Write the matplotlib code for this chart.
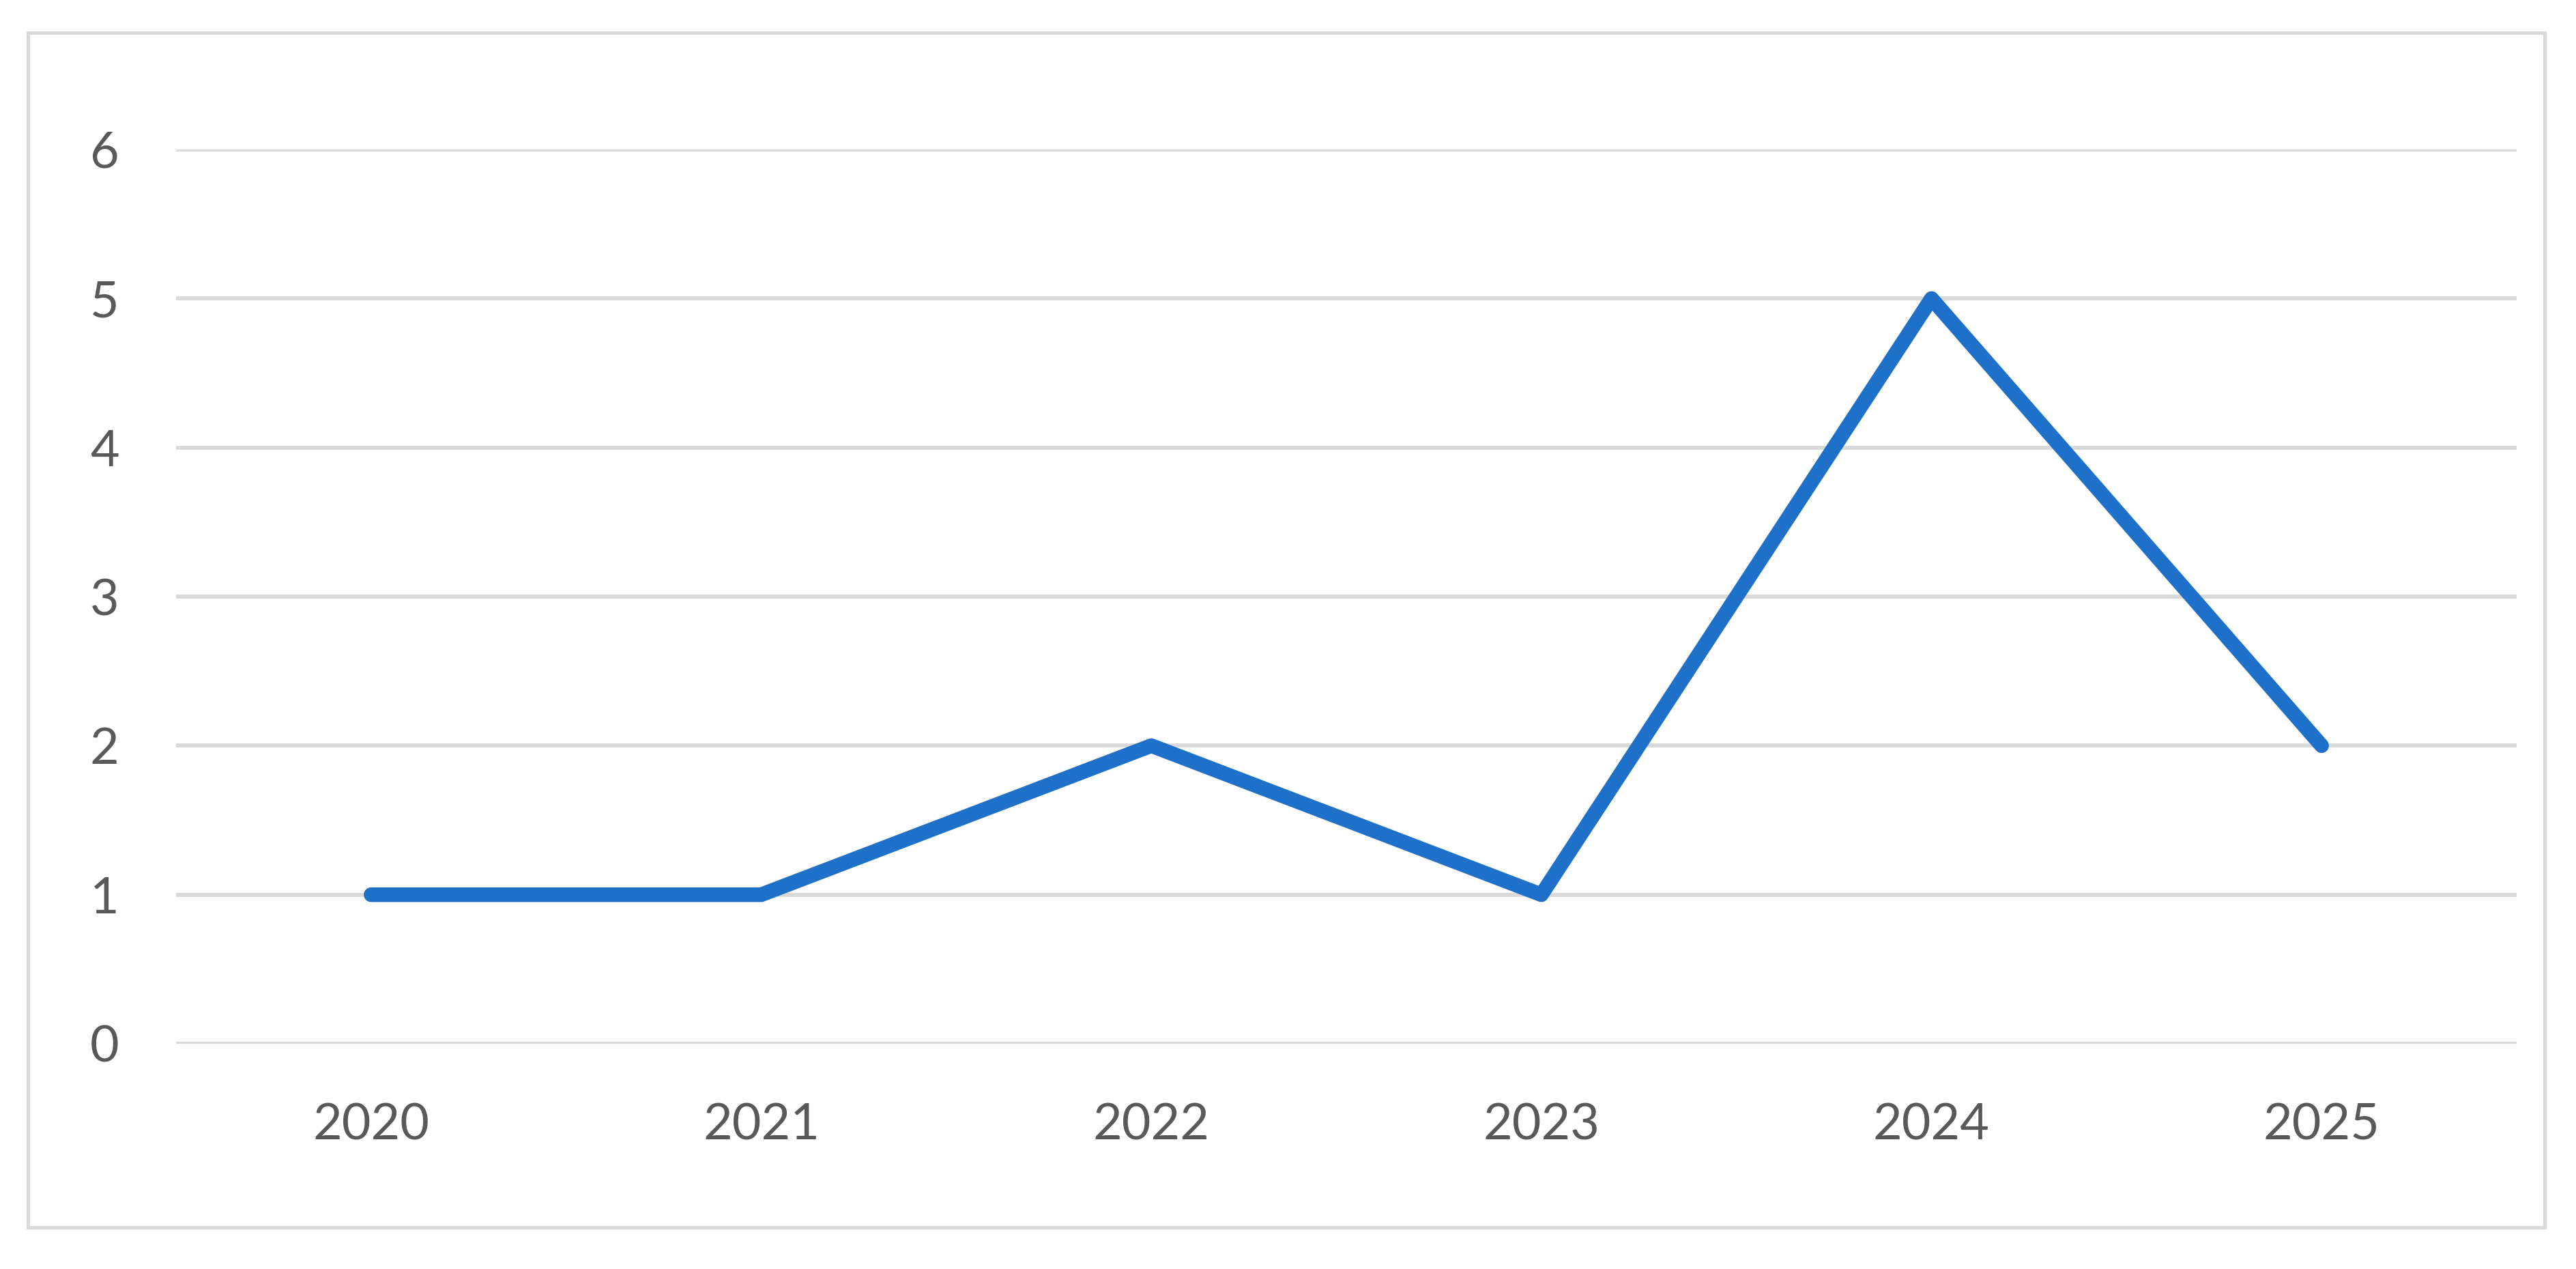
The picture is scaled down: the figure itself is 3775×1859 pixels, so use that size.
import matplotlib
matplotlib.use("Agg")
import matplotlib.pyplot as plt
from matplotlib.patches import Rectangle

years = ["2020", "2021", "2022", "2023", "2024", "2025"]
values = [1, 1, 2, 1, 5, 2]
y_ticks = [0, 1, 2, 3, 4, 5, 6]

W, H = 3775, 1859
DPI = 100
fig = plt.figure(figsize=(W / DPI, H / DPI), dpi=DPI)
fig.patch.set_facecolor("white")

# outer chart border
fig.patches.append(Rectangle((41 / W, 1 - 1798 / H), (3729 - 41) / W, (1798 - 48) / H,
                             transform=fig.transFigure, fill=False,
                             edgecolor="#D9D9D9", linewidth=3.5))

left, right, top, bottom = 258, 3688, 219, 1529
ax = fig.add_axes([left / W, 1 - bottom / H, (right - left) / W, (bottom - top) / H])

x = list(range(len(years)))
ax.plot(x, values, color="#1F70C8", linewidth=15.5, solid_capstyle="round",
        solid_joinstyle="round", zorder=3)

ax.set_xlim(-0.5, len(years) - 0.5)
ax.set_ylim(0, 6)
ax.set_yticks(y_ticks)
ax.set_xticks(x)
ax.set_xticklabels(years)
for s in ax.spines.values():
    s.set_visible(False)
ax.grid(axis="y", color="#D9D9D9", linewidth=4.2, zorder=0)
ax.grid(axis="x", visible=False)
ax.set_axisbelow(True)
ax.tick_params(axis="both", length=0, labelsize=53, colors="#595959")
ax.tick_params(axis="y", pad=60)
ax.tick_params(axis="x", pad=62)
for lbl in ax.get_xticklabels() + ax.get_yticklabels():
    lbl.set_fontfamily(["Lato", "DejaVu Sans"])
    lbl.set_color("#595959")

fig.savefig("out.png", dpi=DPI, facecolor="white")
